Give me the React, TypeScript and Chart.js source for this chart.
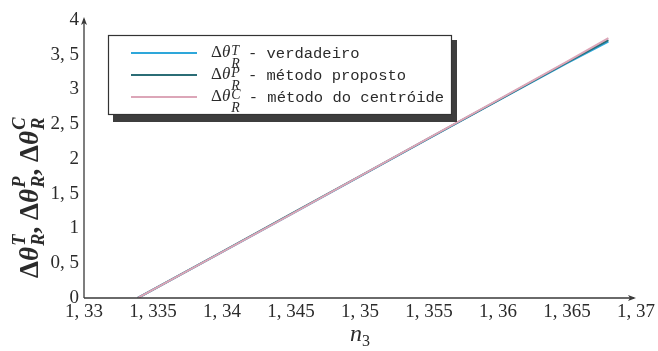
import React, { useEffect, useRef } from "react";
import { Chart, registerables } from "chart.js";

Chart.register(...registerables);

// Refractive index n3 (x) and angular shift Δθ_R for each method (y)
const nValues = [1.3339, 1.34, 1.345, 1.35, 1.355, 1.36, 1.365, 1.368];
const trueValues = [0, 0.66, 1.205, 1.75, 2.295, 2.84, 3.38, 3.69];
const proposedValues = [0, 0.665, 1.21, 1.755, 2.3, 2.845, 3.39, 3.71];
const centroidValues = [0, 0.66, 1.205, 1.755, 2.305, 2.85, 3.4, 3.74];

const xTicks = [1.33, 1.335, 1.34, 1.345, 1.35, 1.355, 1.36, 1.365, 1.37];
const yTicks = [0, 0.5, 1, 1.5, 2, 2.5, 3, 3.5, 4];

const seriesSups = ["T", "P", "C"];
const seriesNames = ["verdadeiro", "método proposto", "método do centróide"];
const seriesColors = ["#2ea7da", "#2b6d76", "#dca6b8"];

const SERIF = "'Liberation Serif', 'DejaVu Serif', serif";
const MONO = "'Liberation Mono', 'DejaVu Sans Mono', monospace";
const INK = "#2b2b2b";

const fmt = (v: number) => String(parseFloat(v.toFixed(4))).replace(".", ", ");

// Draws "Δθ" with a superscript and a subscript; returns the advance width.
function drawDeltaTheta(
  ctx: CanvasRenderingContext2D,
  x: number,
  y: number,
  size: number,
  scriptRatio: number,
  sup: string,
  sub: string,
  supDy: number,
  subDy: number,
  weight = ""
) {
  ctx.font = `${weight}${size}px ${SERIF}`;
  ctx.fillText("Δ", x, y);
  let cx = x + ctx.measureText("Δ").width;
  ctx.font = `italic ${weight}${size}px ${SERIF}`;
  ctx.fillText("θ", cx, y);
  cx += ctx.measureText("θ").width + size * 0.05;
  const s = size * scriptRatio;
  ctx.font = `italic ${weight}${s}px ${SERIF}`;
  ctx.fillText(sup, cx, y + supDy);
  ctx.fillText(sub, cx, y + subDy);
  const sw = Math.max(ctx.measureText(sup).width, ctx.measureText(sub).width);
  return cx + sw - x;
}

const decorations = {
  id: "decorations",
  afterDatasetsDraw(chart: Chart) {
    const { ctx, chartArea } = chart;
    const { left, right, top, bottom } = chartArea;
    ctx.save();
    ctx.textAlign = "left";
    ctx.textBaseline = "alphabetic";

    // Axes with arrow heads
    ctx.strokeStyle = "#3a3a3a";
    ctx.fillStyle = "#3a3a3a";
    ctx.lineWidth = 1.3;
    ctx.beginPath();
    ctx.moveTo(left, bottom);
    ctx.lineTo(right - 2, bottom);
    ctx.moveTo(left, bottom);
    ctx.lineTo(left, top - 1);
    ctx.stroke();
    ctx.beginPath();
    ctx.moveTo(right, bottom);
    ctx.lineTo(right - 8, bottom - 3);
    ctx.lineTo(right - 6, bottom);
    ctx.lineTo(right - 8, bottom + 3);
    ctx.closePath();
    ctx.fill();
    ctx.beginPath();
    ctx.moveTo(left, top - 3);
    ctx.lineTo(left - 3, top + 5);
    ctx.lineTo(left, top + 3);
    ctx.lineTo(left + 3, top + 5);
    ctx.closePath();
    ctx.fill();

    // Legend box with drop shadow
    const bx = left + 24;
    const by = top + 15;
    const bw = 344;
    const bh = 80;
    ctx.fillStyle = "#3d3d3d";
    ctx.fillRect(bx + 5, by + 5, bw, bh + 2);
    ctx.fillStyle = "#ffffff";
    ctx.fillRect(bx, by, bw, bh);
    ctx.strokeStyle = "#333";
    ctx.lineWidth = 1.2;
    ctx.strokeRect(bx + 0.5, by + 0.5, bw - 1, bh - 1);

    for (let i = 0; i < seriesNames.length; i++) {
      const ly = by + 18 + i * 22;
      ctx.strokeStyle = seriesColors[i];
      ctx.lineWidth = 2;
      ctx.beginPath();
      ctx.moveTo(bx + 23, ly);
      ctx.lineTo(bx + 89, ly);
      ctx.stroke();
      ctx.fillStyle = INK;
      const adv = drawDeltaTheta(ctx, bx + 103, ly + 4, 17, 0.82, seriesSups[i], "R", -2, 11);
      ctx.font = `15.5px ${MONO}`;
      ctx.fillText(" - " + seriesNames[i], bx + 103 + adv - 1, ly + 5);
    }

    // Y axis title, written bottom to top
    ctx.save();
    ctx.translate(38, 278);
    ctx.rotate(-Math.PI / 2);
    ctx.fillStyle = INK;
    let cx = 0;
    seriesSups.forEach((p, i) => {
      cx += drawDeltaTheta(ctx, cx, 0, 27, 0.68, p, "R", -13, 6, "bold ");
      if (i < seriesSups.length - 1) {
        ctx.font = `bold 27px ${SERIF}`;
        ctx.fillText(",", cx, 0);
        cx += ctx.measureText(", ").width;
      }
    });
    ctx.restore();

    // X axis title
    const tx = chart.scales.x.getPixelForValue(1.35);
    ctx.fillStyle = INK;
    ctx.font = `italic 24px ${SERIF}`;
    ctx.fillText("n", tx - 10, 341);
    const nw = ctx.measureText("n").width;
    ctx.font = `16px ${SERIF}`;
    ctx.fillText("3", tx - 10 + nw, 346);

    ctx.restore();
  },
};

export default function App() {
  const ref = useRef<HTMLCanvasElement | null>(null);

  useEffect(() => {
    if (!ref.current) return;
    const mk = (vals: number[]) => nValues.map((x, i) => ({ x, y: vals[i] }));
    const tickFont = { family: SERIF, size: 19 };
    const chart = new Chart(ref.current, {
      type: "line",
      data: {
        datasets: [
          { label: "verdadeiro", data: mk(trueValues), borderColor: seriesColors[0], order: 2 },
          { label: "método proposto", data: mk(proposedValues), borderColor: seriesColors[1], order: 1 },
          { label: "método do centróide", data: mk(centroidValues), borderColor: seriesColors[2], order: 0 },
        ].map((d) => ({ ...d, borderWidth: 2, pointRadius: 0, tension: 0, fill: false })),
      },
      options: {
        responsive: false,
        animation: false,
        layout: { padding: { top: 20, right: 22, left: 0, bottom: 0 } },
        plugins: { legend: { display: false }, tooltip: { enabled: false } },
        scales: {
          x: {
            type: "linear",
            min: 1.33,
            max: 1.37,
            afterBuildTicks: (s: any) => {
              s.ticks = xTicks.map((value) => ({ value }));
            },
            afterFit: (s: any) => {
              s.height = 53;
            },
            grid: { display: false, drawTicks: false },
            border: { display: false },
            ticks: {
              font: tickFont,
              color: INK,
              padding: 3,
              maxRotation: 0,
              autoSkip: false,
              callback: (v: any) => fmt(Number(v)),
            },
          },
          y: {
            type: "linear",
            min: 0,
            max: 4,
            afterBuildTicks: (s: any) => {
              s.ticks = yTicks.map((value) => ({ value }));
            },
            afterFit: (s: any) => {
              s.width = 84;
            },
            grid: { display: false, drawTicks: false },
            border: { display: false },
            ticks: {
              font: tickFont,
              color: INK,
              padding: 5,
              autoSkip: false,
              callback: (v: any) => fmt(Number(v)),
            },
          },
        },
      },
      plugins: [decorations],
    });
    return () => chart.destroy();
  }, []);

  return (
    <div style={{ position: "fixed", left: 0, top: 0, width: 658, height: 351, background: "#fff" }}>
      <canvas ref={ref} width={658} height={351} style={{ display: "block" }} />
    </div>
  );
}
